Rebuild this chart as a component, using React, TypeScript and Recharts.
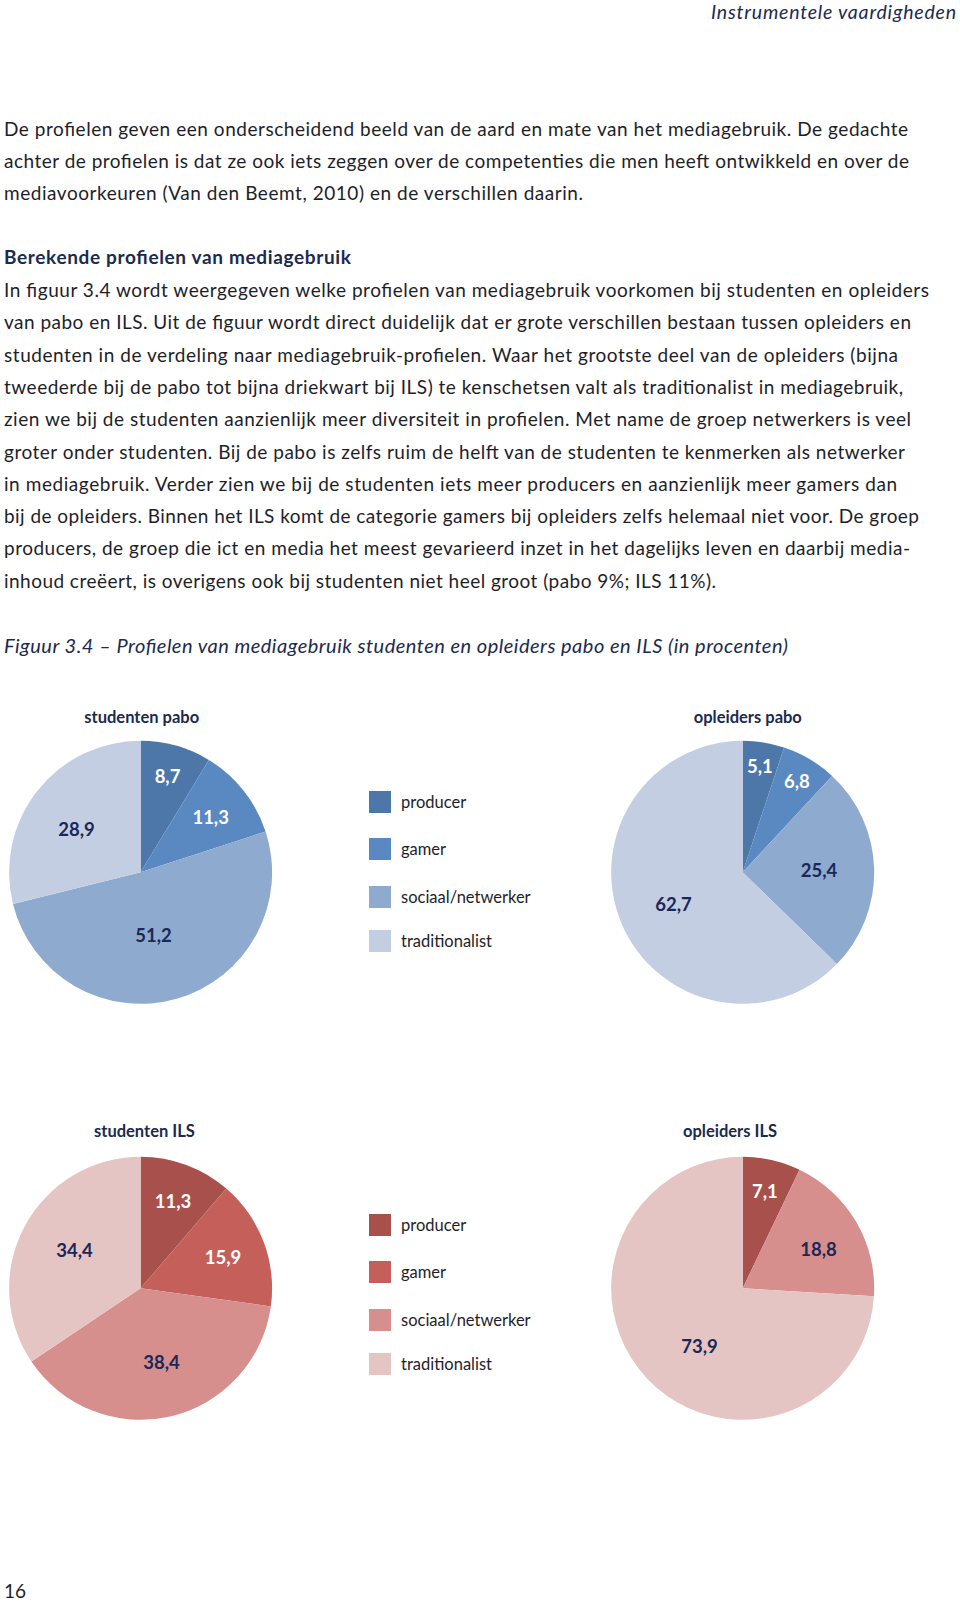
import React from 'react';
import { PieChart, Pie, Cell, Legend } from 'recharts';

// ---------- data ----------
const categories = ['producer', 'gamer', 'sociaal/netwerker', 'traditionalist'];
const studentenPabo = [8.7, 11.3, 51.2, 28.9];
const opleidersPabo = [5.1, 6.8, 25.4, 62.7];
const studentenILS = [11.3, 15.9, 38.4, 34.4];
const opleidersILS = [7.1, 0, 18.8, 73.9];
const chartTitles = ['studenten pabo', 'opleiders pabo', 'studenten ILS', 'opleiders ILS'];

const headerText = 'Instrumentele vaardigheden';
const paragraph1 = [
  'De profielen geven een onderscheidend beeld van de aard en mate van het mediagebruik. De gedachte',
  'achter de profielen is dat ze ook iets zeggen over de competenties die men heeft ontwikkeld en over de',
  'mediavoorkeuren (Van den Beemt, 2010) en de verschillen daarin.',
];
const headingText = 'Berekende profielen van mediagebruik';
const paragraph2 = [
  'In figuur 3.4 wordt weergegeven welke profielen van mediagebruik voorkomen bij studenten en opleiders',
  'van pabo en ILS. Uit de figuur wordt direct duidelijk dat er grote verschillen bestaan tussen opleiders en',
  'studenten in de verdeling naar mediagebruik-profielen. Waar het grootste deel van de opleiders (bijna',
  'tweederde bij de pabo tot bijna driekwart bij ILS) te kenschetsen valt als traditionalist in mediagebruik,',
  'zien we bij de studenten aanzienlijk meer diversiteit in profielen. Met name de groep netwerkers is veel',
  'groter onder studenten. Bij de pabo is zelfs ruim de helft van de studenten te kenmerken als netwerker',
  'in mediagebruik. Verder zien we bij de studenten iets meer producers en aanzienlijk meer gamers dan',
  'bij de opleiders. Binnen het ILS komt de categorie gamers bij opleiders zelfs helemaal niet voor. De groep',
  'producers, de groep die ict en media het meest gevarieerd inzet in het dagelijks leven en daarbij media-',
  'inhoud creëert, is overigens ook bij studenten niet heel groot (pabo 9%; ILS 11%).',
];
const captionText = 'Figuur 3.4 – Profielen van mediagebruik studenten en opleiders pabo en ILS (in procenten)';
const pageNumber = '16';

// ---------- styling ----------
const FONT = 'Lato, "Open Sans", sans-serif';
const TEXT = '#1e1e2a';
const NAVY = '#1b2a4e';
const LABEL_DARK = '#1a2858';
const blueColors = ['#4d77a9', '#5a89c2', '#8faacf', '#c3cee3'];
const redColors = ['#a8514c', '#c45f5a', '#d68f8d', '#e5c5c4'];
const labelLight = [true, true, false, false];

const p1Widths = [904, 905, 579];
const p2Widths = [925, 907, 894, 899, 907, 901, 893, 915, 906, 712];

// label placement: radius ratio and angle shift (deg) per slice
const ratiosSP = [0.76, 0.68, 0.49, 0.59];
const shiftSP = [0, 0, -4.5, 3.8];
const ratiosOP = [0.82, 0.81, 0.58, 0.58];
const shiftOP = [0, 0, 0, 2];
const ratiosSI = [0.71, 0.67, 0.58, 0.58];
const shiftSI = [0, 0, 3, -2];
const ratiosOI = [0.76, 0.6, 0.65, 0.55];
const shiftOI = [0, 0, -3, 10];
const legendOffsets = [0, 47, 95, 139];

const RAD = Math.PI / 180;
const fmt = (v: number) => v.toFixed(1).replace('.', ',');

function makeData(values: number[]) {
  return categories.map((name, i) => ({ name, value: values[i] }));
}

function makeLabel(ratios: number[], shifts: number[]) {
  return (props: any) => {
    const { cx, cy, midAngle, outerRadius, index, value } = props;
    if (!value) return null;
    const r = outerRadius * ratios[index];
    const a = midAngle + shifts[index];
    const x = cx + r * Math.cos(-a * RAD);
    const y = cy + r * Math.sin(-a * RAD);
    return (
      <text
        x={x}
        y={y}
        textAnchor="middle"
        dominantBaseline="central"
        fill={labelLight[index] ? '#ffffff' : LABEL_DARK}
        fontFamily={FONT}
        fontWeight={700}
        fontSize={18.5}
      >
        {fmt(value)}
      </text>
    );
  };
}

function LegendBox({ colors }: { colors: string[] }) {
  return (
    <div style={{ position: 'relative', width: 220, height: 165 }}>
      {categories.map((c, i) => (
        <div
          key={c}
          style={{ position: 'absolute', left: 0, top: legendOffsets[i], height: 22, display: 'flex', alignItems: 'center' }}
        >
          <div style={{ width: 22, height: 22, background: colors[i] }} />
          <span style={{ marginLeft: 10, fontFamily: FONT, fontSize: 16.5, color: TEXT, whiteSpace: 'nowrap' }}>{c}</span>
        </div>
      ))}
    </div>
  );
}

type PieSpec = { values: number[]; ratios: number[]; shifts: number[]; cx: number };

function PieRow({
  top,
  cy,
  left,
  right,
  colors,
  legendTop,
}: {
  top: number;
  cy: number;
  left: PieSpec;
  right: PieSpec;
  colors: string[];
  legendTop: number;
}) {
  return (
    <div style={{ position: 'absolute', left: 0, top, width: 960, height: 340 }}>
      <PieChart width={960} height={340} margin={{ top: 0, right: 0, bottom: 0, left: 0 }}>
        {[left, right].map((p, k) => (
          <Pie
            key={k}
            data={makeData(p.values)}
            dataKey="value"
            nameKey="name"
            cx={p.cx}
            cy={cy}
            outerRadius={131.5}
            startAngle={90}
            endAngle={-270}
            stroke="none"
            labelLine={false}
            label={makeLabel(p.ratios, p.shifts)}
            isAnimationActive={false}
          >
            {p.values.map((_, i) => (
              <Cell key={i} fill={colors[i]} />
            ))}
          </Pie>
        ))}
        <Legend
          content={() => <LegendBox colors={colors} />}
          wrapperStyle={{ position: 'absolute', left: 369, top: legendTop, width: 220, height: 165 }}
        />
      </PieChart>
    </div>
  );
}

export default function App() {
  return (
    <div style={{ position: 'relative', width: 960, height: 1606, background: '#fff', overflow: 'hidden' }}>
      <style>{'body{margin:0;}'}</style>
      <svg width={960} height={1606} style={{ position: 'absolute', left: 0, top: 0 }}>
        <text x={956} y={18.5} textAnchor="end" fontFamily={FONT} fontStyle="italic" fontSize={19.5} fill={NAVY} textLength={245}>
          {headerText}
        </text>
        {paragraph1.map((l, i) => (
          <text key={'a' + i} x={4} y={135.5 + i * 32} fontFamily={FONT} fontSize={19} fill={TEXT} textLength={p1Widths[i]}>
            {l}
          </text>
        ))}
        <text x={4} y={264} fontFamily={FONT} fontWeight={700} fontSize={19} fill={NAVY} textLength={347}>
          {headingText}
        </text>
        {paragraph2.map((l, i) => (
          <text key={'b' + i} x={4} y={297 + i * 32.3} fontFamily={FONT} fontSize={19} fill={TEXT} textLength={p2Widths[i]}>
            {l}
          </text>
        ))}
        <text x={4} y={653} fontFamily={FONT} fontStyle="italic" fontSize={20} fill={NAVY} textLength={784}>
          {captionText}
        </text>
        <text x={141.7} y={723} textAnchor="middle" fontFamily={FONT} fontWeight={700} fontSize={16.5} fill={NAVY}>
          {chartTitles[0]}
        </text>
        <text x={747.8} y={723} textAnchor="middle" fontFamily={FONT} fontWeight={700} fontSize={16.5} fill={NAVY}>
          {chartTitles[1]}
        </text>
        <text x={144.4} y={1137} textAnchor="middle" fontFamily={FONT} fontWeight={700} fontSize={16.5} fill={NAVY}>
          {chartTitles[2]}
        </text>
        <text x={730} y={1137} textAnchor="middle" fontFamily={FONT} fontWeight={700} fontSize={16.5} fill={NAVY}>
          {chartTitles[3]}
        </text>
        <text x={4} y={1598} fontFamily={FONT} fontSize={19} fill={TEXT}>
          {pageNumber}
        </text>
      </svg>
      <PieRow
        top={680}
        cy={192.3}
        left={{ values: studentenPabo, ratios: ratiosSP, shifts: shiftSP, cx: 140.6 }}
        right={{ values: opleidersPabo, ratios: ratiosOP, shifts: shiftOP, cx: 742.7 }}
        colors={blueColors}
        legendTop={110.7}
      />
      <PieRow
        top={1100}
        cy={188.3}
        left={{ values: studentenILS, ratios: ratiosSI, shifts: shiftSI, cx: 140.6 }}
        right={{ values: opleidersILS, ratios: ratiosOI, shifts: shiftOI, cx: 742.7 }}
        colors={redColors}
        legendTop={114}
      />
    </div>
  );
}
